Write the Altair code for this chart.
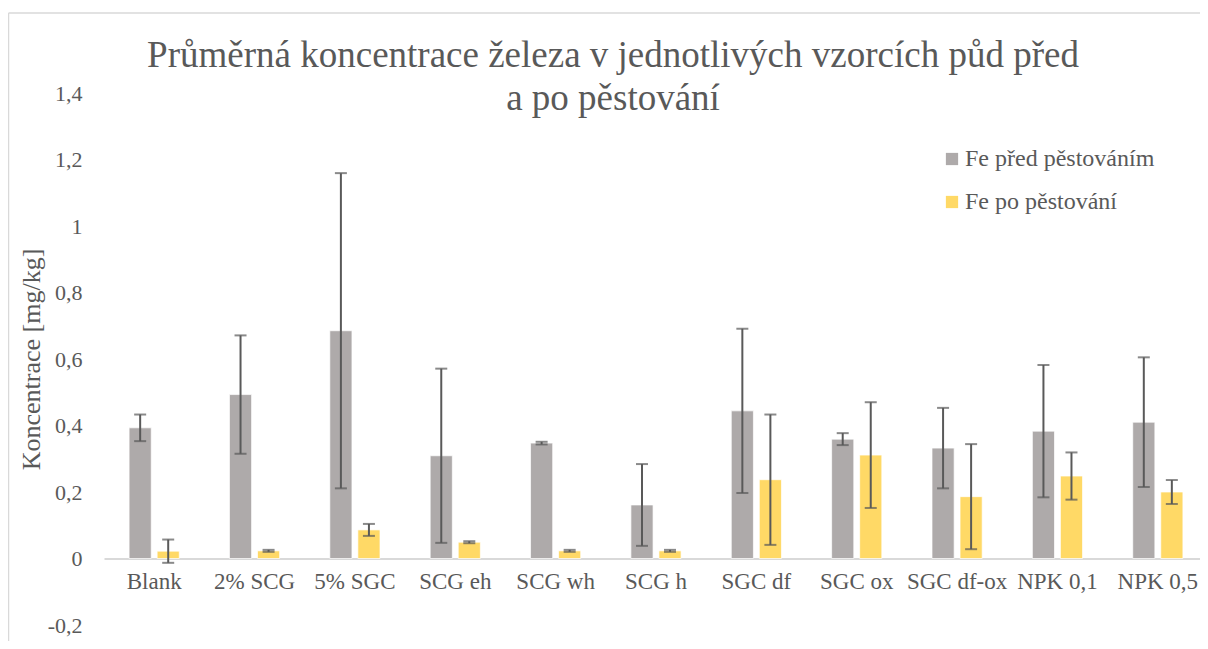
import altair as alt
import pandas as pd

categories = ["Blank", "2% SCG", "5% SGC", "SCG eh", "SCG wh", "SCG h",
              "SGC df", "SGC ox", "SGC df-ox", "NPK 0,1", "NPK 0,5"]
series_names = ["Fe před pěstováním", "Fe po pěstování"]
fe_pred = [0.393, 0.493, 0.685, 0.309, 0.347, 0.161, 0.444, 0.359, 0.332, 0.383, 0.410]
fe_pred_err = [0.040, 0.178, 0.474, 0.262, 0.004, 0.123, 0.247, 0.018, 0.121, 0.199, 0.195]
fe_po = [0.022, 0.023, 0.086, 0.049, 0.023, 0.023, 0.237, 0.311, 0.186, 0.248, 0.200]
fe_po_err = [0.035, 0.003, 0.018, 0.003, 0.003, 0.003, 0.196, 0.159, 0.158, 0.071, 0.036]
y_ticks = [-0.2, 0, 0.2, 0.4, 0.6, 0.8, 1.0, 1.2, 1.4]

rows = []
for name, vals, errs in [(series_names[0], fe_pred, fe_pred_err),
                         (series_names[1], fe_po, fe_po_err)]:
    for c, v, e in zip(categories, vals, errs):
        rows.append({"kategorie": c, "serie": name, "hodnota": v,
                     "lo": v - e, "hi": v + e})
df = pd.DataFrame(rows)

FONT = "Liberation Serif"
TXT = "#595959"

x_enc = alt.X("kategorie:N", sort=categories,
              scale=alt.Scale(paddingInner=0.5, paddingOuter=0.25, range=[0, 1104]),
              axis=alt.Axis(title=None, labelAngle=0, offset=-66.5, domainColor="#D9D9D9",
                            domainWidth=2, ticks=False, labelPadding=12,
                            labelFontSize=23, labelFont=FONT, labelColor=TXT))
xo_enc = alt.XOffset("serie:N", sort=series_names,
                     scale=alt.Scale(paddingInner=0.21, paddingOuter=0))
y_scale = alt.Scale(domain=[-0.2, 1.4], nice=False, zero=False)

bars = alt.Chart(df).mark_bar(stroke="white", strokeWidth=0.7).encode(
    x=x_enc,
    xOffset=xo_enc,
    y=alt.Y("hodnota:Q", scale=y_scale,
            axis=alt.Axis(values=y_ticks, grid=False, domain=False, ticks=False,
                          labelPadding=22, labelFontSize=22, labelFont=FONT,
                          labelColor=TXT,
                          labelExpr="replace(replace(format(datum.value, '~g'), '.', ','), '\u2212', '-')",
                          title="Koncentrace [mg/kg]", titleFont=FONT, titleFontSize=26,
                          titleColor=TXT, titleFontWeight="normal",
                          titleX=-73, titleY=266, titleAlign="center",
                          titleBaseline="middle", titleAngle=270)),
    y2=alt.datum(0),
    color=alt.Color("serie:N", sort=series_names,
                    scale=alt.Scale(domain=series_names, range=["#AEAAAA", "#FFD966"]),
                    legend=alt.Legend(title=None, orient="none", legendX=836, legendY=54,
                                      symbolType="square", symbolSize=150,
                                      symbolStrokeWidth=0, labelFont=FONT,
                                      labelFontSize=24, labelColor=TXT, labelOffset=1,
                                      labelLimit=0, rowPadding=19)),
)

err = alt.Chart(df).mark_rule(color="#595959", strokeWidth=2).encode(
    x=alt.X("kategorie:N", sort=categories),
    xOffset=alt.XOffset("serie:N", sort=series_names),
    y=alt.Y("lo:Q", scale=y_scale),
    y2="hi:Q",
)
cap_hi = alt.Chart(df).mark_tick(color="#595959", thickness=2, size=12, orient="horizontal").encode(
    x=alt.X("kategorie:N", sort=categories),
    xOffset=alt.XOffset("serie:N", sort=series_names),
    y=alt.Y("hi:Q", scale=y_scale),
)
cap_lo = alt.Chart(df).mark_tick(color="#595959", thickness=2, size=12, orient="horizontal").encode(
    x=alt.X("kategorie:N", sort=categories),
    xOffset=alt.XOffset("serie:N", sort=series_names),
    y=alt.Y("lo:Q", scale=y_scale),
)

frame_df = pd.DataFrame({"k": [0]})
frame_left = alt.Chart(frame_df).mark_rule(color="#D9D9D9", strokeWidth=1.5).encode(
    x=alt.value(-95.5), y=alt.value(-80), y2=alt.value(570))
frame_top = alt.Chart(frame_df).mark_rule(color="#D9D9D9", strokeWidth=1.5).encode(
    x=alt.value(-95.5), x2=alt.value(1200), y=alt.value(-80))

chart = alt.layer(frame_left, frame_top, bars, err, cap_hi, cap_lo).properties(
    width=1096, height=532,
    padding={"left": 96, "top": 85, "right": 0, "bottom": 16},
    autosize=alt.AutoSizeParams(type="none"),
    background="white",
    title=alt.TitleParams(
        text=["Průměrná koncentrace železa v jednotlivých vzorcích půd před",
              "a po pěstování"],
        font=FONT, fontSize=37, fontWeight="normal", color=TXT,
        anchor="middle", frame="group", dx=-39, dy=106, lineHeight=43, offset=0),
).configure_view(strokeWidth=0, stroke="transparent")

chart.save("out.html", embed_options={"renderer": "svg", "actions": False})
